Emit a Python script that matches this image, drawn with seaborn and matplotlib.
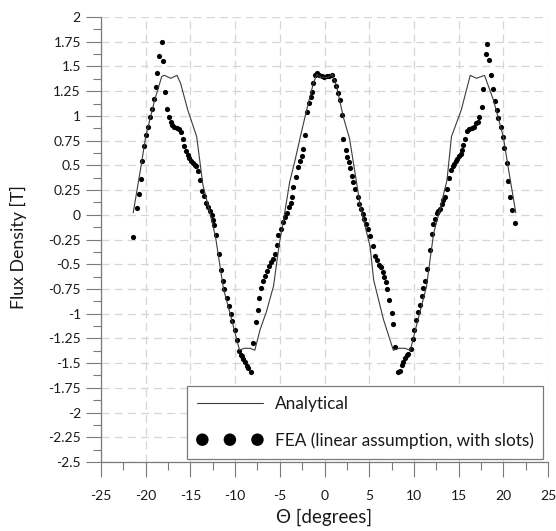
import matplotlib
matplotlib.use("Agg")
import matplotlib.pyplot as plt
from matplotlib.ticker import FixedLocator, MultipleLocator
import seaborn as sns

# Analytical flux density along the air gap
theta_analytical = [
    -21.4, -20.6, -20.0, -19.0, -18.2, -17.9, -17.2, -16.5, -16.1, -15.3,
    -14.3, -13.6, -12.9, -12.2, -11.3, -10.5, -9.8, -9.5, -9.0, -8.3,
    -7.8, -7.2, -6.5, -5.7, -5.1, -4.4, -3.9, -3.3, -2.7, -2.0,
    -1.25, -0.85, -0.4, 0.0, 0.4, 0.85, 1.35, 2.1, 2.8, 3.6,
    4.0, 5.1, 5.5, 6.6, 7.7, 8.3, 9.0, 9.6, 10.4, 11.4,
    12.2, 12.9, 13.7, 14.2, 15.3, 16.3, 17.0, 17.9, 18.9, 20.0,
    20.6, 21.4,
]
b_analytical = [
    0.02, 0.45, 0.79, 1.16, 1.40, 1.41, 1.38, 1.41, 1.33, 1.06,
    0.79, 0.30, 0.05, -0.22, -0.75, -1.02, -1.27, -1.37, -1.35, -1.35,
    -1.37, -1.16, -0.98, -0.72, -0.32, 0.05, 0.33, 0.55, 0.79, 1.06,
    1.33, 1.42, 1.39, 1.39, 1.39, 1.42, 1.30, 0.99, 0.77, 0.32,
    0.08, -0.32, -0.66, -1.06, -1.37, -1.35, -1.35, -1.37, -1.08, -0.73,
    -0.19, 0.05, 0.35, 0.79, 1.06, 1.41, 1.38, 1.41, 1.16, 0.79,
    0.45, 0.02,
]

# FEA results (linear material, slotted stator)
theta_fea = [
    -21.45, -21.01, -20.78, -20.56, -20.41, -20.16, -19.97, -19.71, -19.52, -19.26,
    -19.07, -18.85, -18.70, -18.48, -18.18, -18.03, -17.81, -17.62, -17.39, -17.20,
    -17.02, -16.80, -16.53, -16.28, -16.05, -15.86, -15.68, -15.46, -15.30, -15.12,
    -14.93, -14.74, -14.52, -14.34, -14.15, -13.96, -13.67, -13.48, -13.26, -13.03,
    -12.81, -12.62, -12.51, -12.33, -12.14, -11.77, -11.61, -11.39, -11.21, -10.94,
    -10.72, -10.49, -10.31, -10.04, -9.82, -9.53, -9.37, -9.23, -9.08, -8.89,
    -8.70, -8.52, -8.26, -7.96, -7.66, -7.47, -7.29, -7.10, -6.85, -6.66,
    -6.40, -6.17, -5.95, -5.73, -5.54, -5.31, -5.15, -4.89, -4.65, -4.40,
    -4.20, -4.00, -3.80, -3.64, -3.47, -3.19, -2.93, -2.74, -2.55, -2.37,
    -2.15, -1.92, -1.70, -1.54, -1.43, -1.25, -1.06, -0.87, -0.58, -0.31,
    -0.06, 0.25, 0.54, 0.80, 1.06, 1.25, 1.54, 1.73, 1.92, 2.10,
    2.40, 2.55, 2.71, 2.85, 3.04, 3.22, 3.45, 3.71, 3.89, 4.08,
    4.27, 4.45, 4.64, 4.83, 5.09, 5.39, 5.61, 5.84, 6.06, 6.29,
    6.51, 6.66, 6.88, 7.03, 7.25, 7.52, 7.70, 7.89, 8.26, 8.45,
    8.64, 8.81, 9.00, 9.19, 9.37, 9.68, 9.87, 10.01, 10.23, 10.49,
    10.68, 10.87, 11.05, 11.24, 11.43, 11.80, 11.99, 12.17, 12.36, 12.55,
    12.73, 12.92, 13.11, 13.29, 13.48, 13.67, 13.96, 14.12, 14.34, 14.49,
    14.71, 14.86, 15.04, 15.23, 15.41, 15.53, 15.72, 15.97, 16.20, 16.47,
    16.72, 16.95, 17.14, 17.32, 17.58, 17.76, 18.03, 18.21, 18.43, 18.62,
    18.88, 19.07, 19.26, 19.44, 19.71, 19.93, 20.11, 20.38, 20.56, 20.75,
    21.01, 21.31,
]
b_fea = [
    -0.22, 0.07, 0.21, 0.36, 0.54, 0.70, 0.81, 0.89, 0.99, 1.07,
    1.17, 1.29, 1.43, 1.61, 1.75, 1.56, 1.24, 1.07, 0.99, 0.94,
    0.91, 0.89, 0.88, 0.87, 0.84, 0.77, 0.70, 0.64, 0.60, 0.57,
    0.54, 0.52, 0.50, 0.49, 0.44, 0.35, 0.24, 0.19, 0.12, 0.08,
    0.04, 0.00, -0.05, -0.10, -0.20, -0.40, -0.56, -0.67, -0.75, -0.84,
    -0.92, -1.00, -1.07, -1.16, -1.27, -1.38, -1.42, -1.43, -1.46, -1.49,
    -1.53, -1.55, -1.59, -1.30, -1.08, -0.96, -0.84, -0.74, -0.67, -0.62,
    -0.57, -0.52, -0.48, -0.45, -0.40, -0.31, -0.20, -0.14, -0.07, -0.02,
    0.02, 0.08, 0.12, 0.18, 0.28, 0.38, 0.48, 0.54, 0.59, 0.67,
    0.81, 1.04, 1.13, 1.19, 1.24, 1.33, 1.41, 1.43, 1.41, 1.40,
    1.39, 1.40, 1.40, 1.41, 1.36, 1.30, 1.23, 1.16, 1.01, 0.77,
    0.66, 0.58, 0.53, 0.47, 0.39, 0.33, 0.26, 0.18, 0.11, 0.06,
    0.01, -0.04, -0.09, -0.14, -0.21, -0.32, -0.42, -0.46, -0.51, -0.53,
    -0.58, -0.63, -0.68, -0.75, -0.86, -0.99, -1.10, -1.34, -1.59, -1.58,
    -1.52, -1.49, -1.45, -1.42, -1.41, -1.36, -1.26, -1.17, -1.06, -0.98,
    -0.91, -0.82, -0.74, -0.67, -0.55, -0.36, -0.19, -0.09, -0.04, 0.02,
    0.04, 0.06, 0.11, 0.15, 0.18, 0.26, 0.37, 0.45, 0.49, 0.51,
    0.54, 0.56, 0.59, 0.61, 0.66, 0.71, 0.77, 0.85, 0.87, 0.88,
    0.89, 0.93, 0.94, 0.99, 1.09, 1.27, 1.63, 1.73, 1.57, 1.41,
    1.27, 1.15, 1.06, 0.98, 0.89, 0.79, 0.68, 0.52, 0.34, 0.18,
    0.05, -0.08,
]

x_ticks = [-25, -20, -15, -10, -5, 0, 5, 10, 15, 20, 25]
x_tick_labels = ["-25", "-20", "-15", "-10", "-5", "0", "5", "10", "15", "20", "25"]
y_ticks = [-2.5, -2.25, -2.0, -1.75, -1.5, -1.25, -1.0, -0.75, -0.5, -0.25,
           0.0, 0.25, 0.5, 0.75, 1.0, 1.25, 1.5, 1.75, 2.0]
y_tick_labels = ["-2.5", "-2.25", "-2", "-1.75", "-1.5", "-1.25", "-1", "-0.75", "-0.5", "-0.25",
                 "0", "0.25", "0.5", "0.75", "1", "1.25", "1.5", "1.75", "2"]

sns.set_theme(style="white")
plt.rcParams["font.family"] = ["Lato", "DejaVu Sans"]

fig, ax = plt.subplots(figsize=(5.56, 5.31), dpi=100)
fig.subplots_adjust(left=0.1817, right=0.9856, bottom=0.1299, top=0.968)

sns.lineplot(x=theta_analytical, y=b_analytical, ax=ax, sort=False, estimator=None,
             color="#3c3c3c", linewidth=0.8, label="Analytical")
sns.scatterplot(x=theta_fea, y=b_fea, ax=ax, color="black", s=14, linewidth=0,
                label="FEA (linear assumption, with slots)")

ax.set_xlim(-25, 25)
ax.set_ylim(-2.5, 2)
ax.xaxis.set_major_locator(FixedLocator(x_ticks))
ax.set_xticklabels(x_tick_labels)
ax.yaxis.set_major_locator(FixedLocator(y_ticks))
ax.set_yticklabels(y_tick_labels)
ax.xaxis.set_minor_locator(MultipleLocator(2.5))
ax.yaxis.set_minor_locator(MultipleLocator(0.125))

ax.tick_params(which="major", direction="out", length=11, width=0.8, color="#7a7a7a",
               labelsize=10, labelcolor="#1a1a1a")
ax.tick_params(which="minor", direction="out", length=5.5, width=0.8, color="#7a7a7a")
ax.tick_params(axis="x", which="major", pad=9, bottom=True)
ax.tick_params(axis="x", which="minor", bottom=True)
ax.tick_params(axis="y", which="both", left=True)
ax.tick_params(axis="y", which="major", pad=3.5)

ax.grid(True, which="major", color="#d6d6d6", linewidth=0.9, linestyle=(0, (6.5, 4)))
ax.set_axisbelow(True)

for side in ("top", "right"):
    ax.spines[side].set_visible(False)
for side in ("left", "bottom"):
    ax.spines[side].set_color("#7a7a7a")
    ax.spines[side].set_linewidth(0.9)

ax.set_xlabel("\u0398 [degrees]", fontsize=13.5, color="#1a1a1a")
ax.set_ylabel("Flux Density [T]", fontsize=12.8, color="#1a1a1a")
ax.yaxis.set_label_coords(-0.166, 0.482)
ax.xaxis.set_label_coords(0.5, -0.104)

leg = ax.legend(loc="upper left", bbox_to_anchor=(0.192, 0.1708, 0.797, 0.0),
                mode="expand", borderaxespad=0, frameon=True, fancybox=False,
                edgecolor="#7a7a7a", framealpha=1, fontsize=12.4, scatterpoints=3,
                scatteryoffsets=[0.5], markerscale=2.4, handlelength=3.8,
                handletextpad=0.7, borderpad=0.6, labelspacing=1.15)
leg.get_frame().set_linewidth(0.9)
for txt in leg.get_texts():
    txt.set_color("#1a1a1a")

fig.savefig("out.png", dpi=100, facecolor="white")
